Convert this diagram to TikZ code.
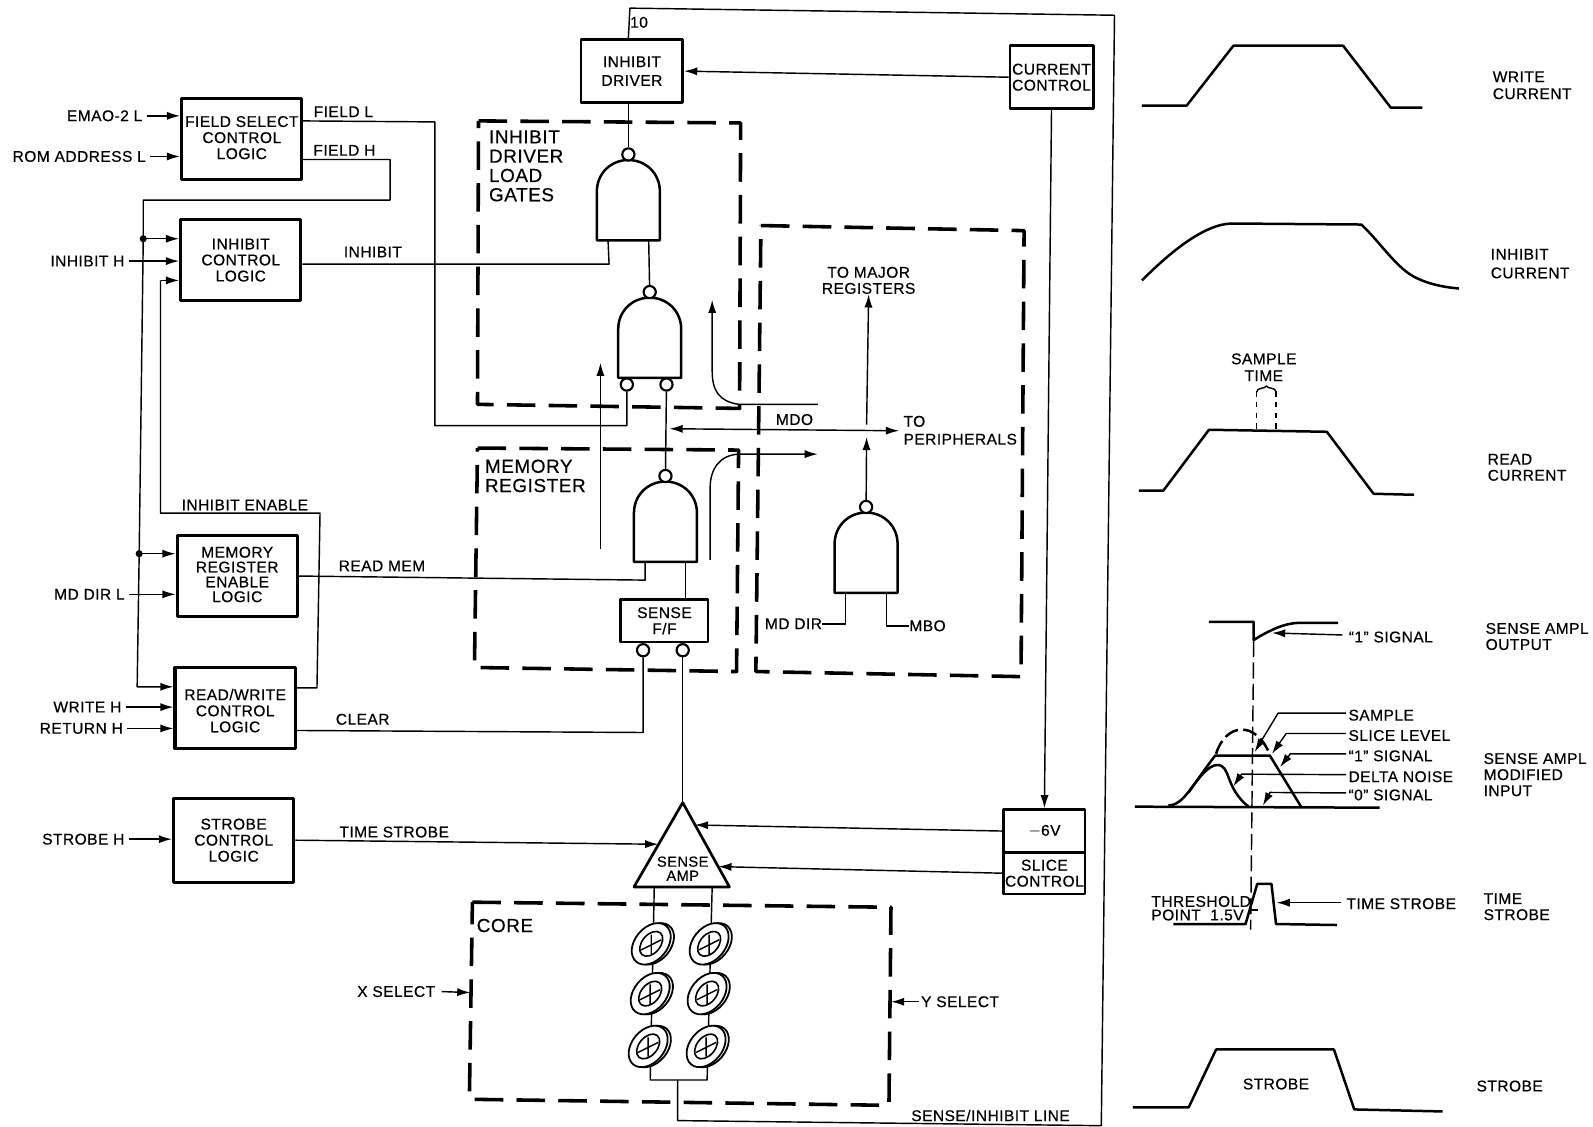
\documentclass[tikz,border=0pt]{standalone}
\usepackage{fontspec}
\setmainfont[LetterSpace=3,FakeBold=0.5]{Liberation Sans}
\usetikzlibrary{arrows.meta,positioning,calc}

\begin{document}
\begin{tikzpicture}[
        x=0.02cm,y=-0.02cm,
        line join=round,
        every node/.style={inner sep=0pt,font=\fontsize{8.7}{9}\selectfont,align=center},
        logicbox/.style={draw,line width=1.7pt,minimum width=2.37cm,minimum height=1.6cm},
        smallbox/.style={draw,line width=1.5pt},
        wire/.style={line width=0.8pt},
        arr/.style={wire,-{Latex[length=2.6mm,width=1.6mm]}},
        dualarr/.style={wire,{Latex[length=2.6mm,width=1.6mm]}-{Latex[length=2.6mm,width=1.6mm]}},
        dashbox/.style={line width=2pt,dash pattern=on 16pt off 7.4pt},
        biglabel/.style={font=\fontsize{10.6}{10.8}\selectfont,align=left},
        sidelabel/.style={align=left,anchor=west},
        wave/.style={line width=1.4pt},
        bubble/.style={circle,draw,fill=white,line width=1.2pt,minimum size=0.24cm},
        gate/.pic={
          \draw[line width=1.4pt] (-31,0) -- (-31,-48) .. controls (-31,-66) and (-17,-79) .. (0,-79)
             .. controls (17,-79) and (31,-66) .. (31,-48) -- (31,0) -- cycle;
          \node[bubble] (-out) at (0,-84.5) {};
          \coordinate (-a) at (-20,0);
          \coordinate (-b) at (20,0);
        },
        corering/.pic={
          \draw[line width=1pt,fill=white,rotate=50] (2,2.5) ellipse [x radius=23,y radius=16];
          \draw[line width=1pt,fill=white,rotate=50] (0,0) ellipse [x radius=23,y radius=16];
          \draw[line width=0.9pt,rotate=50] (0,0) ellipse [x radius=14,y radius=9];
          \draw[line width=0.8pt] (0,-9) -- (0,10) (-10,6) -- (10,-4);
        }
      ]
        \useasboundingbox (0,0) rectangle (1568,1109);
        % control logic
        \node[logicbox] (fsel) at (238,137) {};
        \node (fseltxt) at (238,135.5) {FIELD SELECT\\CONTROL\\LOGIC};
        \node[logicbox] (inh) at (237,256) {INHIBIT\\CONTROL\\LOGIC};
        \node[logicbox] (mre) at (233.5,567) {};
        \node[font=\fontsize{8.7}{8.3}\selectfont] (mretxt) at (233.5,565.5) {MEMORY\\REGISTER\\ENABLE\\LOGIC};
        \node[logicbox] (rw) at (231.5,697) {};
        \node (rwtxt) at (231.5,699.5) {READ/WRITE\\CONTROL\\LOGIC};
        \node[logicbox,minimum height=1.66cm] (strb) at (230,827) {STROBE\\CONTROL\\LOGIC};
        \node[smallbox,minimum width=2cm,minimum height=1.24cm] (driver) at (622,70) {INHIBIT\\[1.5pt]DRIVER};
        \node[smallbox,minimum width=1.64cm,minimum height=1.24cm] (cur) at (1035,76) {CURRENT\\CONTROL};
        \node[smallbox,minimum width=1.6cm,minimum height=0.84cm] (slicev) at (1028,818) {$-$6V};
        \node[smallbox,minimum width=1.6cm,minimum height=0.82cm] (slice) at (1028,859.5) {SLICE\\CONTROL};
        \node[smallbox,minimum width=1.72cm,minimum height=0.84cm] (sff) at (654,611) {SENSE\\F/F};
        % gates
        \pic (gatea) at (618.5,236.5) {gate};
        \pic (gateb) at (639.5,372) {gate};
        \pic (gatec) at (655,553) {gate};
        \pic (gated) at (852.5,583.5) {gate};
        \node[bubble] (gatebl) at (617,378.5) {};
        \node[bubble] (gatebr) at (656,378.5) {};
        \node[bubble] (sffl) at (633,640) {};
        \node[bubble] (sffr) at (672,640) {};
        % dashed groups
        \draw[dashbox] (471,119) -- (729,121) -- (728,402) -- (470,398) -- cycle;
        \draw[dashbox] (749,222) -- (1008,227) -- (1005,666) -- (744,661) -- cycle;
        \draw[dashbox] (470,441) -- (727,443) -- (725,661) -- (467,657) -- cycle;
        \draw[dashbox] (465,888) -- (877,893) -- (875,1088) -- (462,1082) -- cycle;
        \node[biglabel,anchor=north west] (inhlbl) at (481,128) {INHIBIT\\DRIVER\\LOAD\\GATES};
        \node[biglabel,anchor=north west] (memlbl) at (477,452) {MEMORY\\REGISTER};
        \node[biglabel] (corelbl) at (497,911) {CORE};
        % inputs
        \node (emao) at (103,114) {EMAO-2 L};
        \node (rom) at (78,154) {ROM ADDRESS L};
        \node (inhh) at (86,257) {INHIBIT H};
        \node (mddirl) at (88,585) {MD DIR L};
        \node (wrh) at (86,696) {WRITE H};
        \node (reth) at (80,717) {RETURN H};
        \node (strbh) at (82,826) {STROBE H};
        \draw[arr] (emao.east)++(4,0) -- (emao.east -| fsel.west);
        \draw[arr] (rom.east)++(4,0) -- (rom.east -| fsel.west);
        \draw[arr] (inhh.east)++(4,0) -- (inhh.east -| inh.west);
        \draw[arr] (mddirl.east)++(4,0) -- (mddirl.east -| mre.west);
        \draw[arr] (wrh.east)++(4,0) -- (wrh.east -| rw.west);
        \draw[arr] (reth.east)++(4,0) -- (reth.east -| rw.west);
        \draw[arr] (strbh.east)++(4,0) -- (strbh.east -| strb.west);
        % wire labels
        \node (fieldl) at (338,110) {FIELD L};
        \node (fieldh) at (339,148) {FIELD H};
        \node (inhibit) at (367,248) {INHIBIT};
        \node (inhen) at (241,497) {INHIBIT ENABLE};
        \node (readmem) at (376,557) {READ MEM};
        \node (clear) at (357,708) {CLEAR};
        \node (tstrobe) at (388,819) {TIME STROBE};
        % field select and enable lines
        \coordinate (fieldlout) at (297,119);
        \coordinate (fieldhout) at (297,157);
        \coordinate (enjoina) at (141,235);
        \coordinate (enjoinb) at (137,545);
        \coordinate (rwin) at (135,676);
        \coordinate (rwout) at (291,677);
        \coordinate (inhin) at (158,276);
        \draw[wire] (fieldlout) -- (428,120) -- (428,419) -| (gatebl);
        \draw[wire] (fieldhout) -- (384,157) -- (384,197) -- (141,197) -- (enjoina) -- (enjoinb);
        \draw[arr] (enjoinb) -- (rwin) -- (rwin -| rw.west);
        \draw[arr] (enjoina) -- (enjoina -| inh.west);
        \draw[arr] (enjoinb) -- (enjoinb -| mre.west);
        \fill (enjoina) circle [radius=3.5];
        \fill (enjoinb) circle [radius=3.5];
        \draw[wire] (rwout) -- (312,677) -- (315,505) -- (158,505) -- (inhin);
        \draw[arr] (inhin) -- (inhin -| inh.west);
        \draw[wire] (inh.east) ++(0,4) -- (599.5,260) -- (gatea-a);
        \draw[wire] (mre.east) -- (635,571) -- (gatec-a);
        \draw[wire] (rw.east) ++(0,22) -- (633,721) -- (sffl);
        \draw[arr] (strb.east) -- (648,831);
        % gate chain
        \draw[wire] (gatea-out) -- (gatea-out |- driver.south);
        \draw[wire] (gatea-b) -- (gateb-out);
        \draw[wire] (gatebr) -- (gatec-out);
        \draw[wire] (gatec-b) -- (gatec-b |- sff.north);
        \draw[arr] (591,540) -- (591,357);
        \coordinate (mdoa) at (805,398);
        \coordinate (mdob) at (805,447);
        \draw[arr] (mdoa) -- (727,398) .. controls (708,395) and (701,385) .. (701,365) -- (701,295);
        \draw[arr] (699,551) -- (699,480) .. controls (699,462) and (708,448) .. (727,447) -- (mdob);
        % MD bus
        \node (mdo) at (782,413) {MDO};
        \node[align=left,anchor=north west] (perph) at (889,409) {TO\\[1pt]PERIPHERALS};
        \node (major) at (855,276) {TO MAJOR\\REGISTERS};
        \node (mddir) at (781,614) {MD DIR};
        \node (mbo) at (913,616) {MBO};
        \coordinate (mdoleft) at (659,422);
        \draw[dualarr] (mdoleft) -- (885,424);
        \draw[arr] (853,418) -- (major.south);
        \draw[arr] (gated-out) -- (853,430);
        \draw[wire] (gated-a) |- (mddir.east);
        \draw[wire] (gated-b) |- (mbo.west);
        % sense amp
        \coordinate (ampapex) at (672,790);
        \coordinate (ampleft) at (624,873);
        \coordinate (ampright) at (718,873);
        \draw[line width=1.5pt] (ampapex) -- (ampleft) -- (ampright) -- cycle;
        \node[font=\fontsize{8.2}{7.9}\selectfont] (amp) at (672,855) {SENSE\\AMP};
        \draw[wire] (sffr) -- (ampapex);
        \draw[arr] (slicev.west) -- (684,812);
        \draw[arr] (slice.west) -- (707,853);
        \draw[arr] (cur.south) -- (slicev.north);
        \draw[arr] (cur.west) -- (driver.east);
        \coordinate (senseline) at (667,1063);
        \draw[wire] (driver.north -| gatea-a) ++(20,0) -- (620,8) -- (1097,15) -- (1084,1108) -- (667,1103) -- (senseline);
        \node (ten) at (629,22) {10};
        \node (senselbl) at (975,1098) {SENSE/INHIBIT LINE};
        % core
        \draw[wire] (644,873) -- (640,1063) -- (696,1063) -- (701,873);
        \pic at (641,929) {corering};
        \pic at (698,929) {corering};
        \pic at (640,978) {corering};
        \pic at (696,978) {corering};
        \pic at (638,1030) {corering};
        \pic at (695,1030) {corering};
        \node (xsel) at (390,976) {X SELECT};
        \node (ysel) at (945,986) {Y SELECT};
        \coordinate (xtip) at (463,977);
        \coordinate (ytip) at (877,986);
        \draw[arr] (xsel.east)++(6,0) -- (xtip);
        \draw[arr] (ysel.west)++(-2,0) -- (ytip);
        % write and inhibit current
        \draw[wave] (1124,104) -- (1168,104) -- (1214,45) -- (1322,45) -- (1369,106) -- (1400,106);
        \node[sidelabel] (wrcur) at (1469,84) {WRITE\\[0.5pt]CURRENT};
        \draw[wave] (1124,276) .. controls (1150,250) and (1185,220) .. (1213,220) -- (1340,221)
            .. controls (1360,240) and (1375,265) .. (1395,274) .. controls (1410,281) and (1425,283) .. (1436,284);
        \node[sidelabel] (inhcur) at (1467,259.5) {INHIBIT\\[1.5pt]CURRENT};
        % read current
        \draw[wave] (1121,483) -- (1145,483) -- (1190,423) -- (1306,425) -- (1352,486) -- (1392,487);
        \node[sidelabel] (rdcur) at (1464,460) {READ\\[0pt]CURRENT};
        \node (samptime) at (1244,361.5) {SAMPLE\\[0.5pt]TIME};
        \draw[wire,dashed] (1237,385) -- (1237,423);
        \draw[wire,dashed] (1256,385) -- (1256,423);
        \draw[wire] (1237,386) .. controls (1237,381) and (1245,383) .. (1246.5,380) .. controls (1248,383) and (1256,381) .. (1256,386);
        % sense ampl output
        \draw[wave] (1190,612) -- (1234,612) -- (1234,630) .. controls (1250,620) and (1265,613) .. (1280,613) -- (1317,613);
        \node (onesig) at (1369,627) {``1'' SIGNAL};
        \draw[arr] (onesig.west)++(-6,-2) -- (1252,623);
        \node[sidelabel] (senseout) at (1462,626.5) {SENSE AMPL\\OUTPUT};
        \draw[wire,dash pattern=on 9pt off 3pt] (1234,631) -- (1231,915);
        % sense ampl modified input
        \draw[wave] (1117,794) -- (1358,795);
        \draw[wave] (1150,793) .. controls (1165,792) and (1172,775) .. (1196,743.8) -- (1250,743.8) -- (1281,794.6);
        \draw[wave] (1170,780) .. controls (1180,765) and (1190,753) .. (1198,753) .. controls (1212,753) and (1205,775) .. (1229,794);
        \draw[wave,dash pattern=on 8pt off 3pt] (1197,742) .. controls (1206,712) and (1236,708) .. (1250,743);
        \node[sidelabel] (samplbl) at (1327,704) {SAMPLE};
        \node[sidelabel] (slclbl) at (1327,724) {SLICE LEVEL};
        \node[sidelabel] (onelbl) at (1327,744) {``1'' SIGNAL};
        \node[sidelabel] (dltlbl) at (1327,764.5) {DELTA NOISE};
        \node[sidelabel] (zerlbl) at (1327,782.5) {``0'' SIGNAL};
        \draw[arr] (samplbl.west) ++(-2,-2) -- (1258,702) -- (1235,740);
        \draw[arr] (slclbl.west) ++(-2,-2) -- (1266,722) -- (1252,742);
        \draw[arr] (onelbl.west) ++(-2,-2) -- (1270,742) -- (1260,755);
        \draw[arr] (dltlbl.west) ++(-2,-2) -- (1222,762) -- (1214,774);
        \draw[arr] (zerlbl.west) ++(-2,-2) -- (1250,780) -- (1243,793);
        \node[sidelabel] (sensein) at (1460,762.5) {SENSE AMPL\\MODIFIED\\INPUT};
        % time strobe
        \draw[wave] (1155,909.5) -- (1226,909.5) -- (1237.5,870) -- (1251.5,870) -- (1256,909.5) -- (1316,910.5);
        \draw[wire] (1229,895.5) -- (1238,895.5);
        \node[anchor=west,align=left,font=\fontsize{8.7}{7.6}\selectfont] (thresh) at (1133,894) {THRESHOLD\\POINT\ \ 1.5V};
        \node[sidelabel] (tslbl) at (1325,889.5) {TIME STROBE};
        \draw[arr] (tslbl.west)++(-5,-1) -- (1256.5,888.5);
        \node[sidelabel] (timelbl) at (1460,892.5) {TIME\\STROBE};
        % strobe
        \draw[wave] (1115,1090) -- (1170,1090) -- (1197,1033) -- (1313,1033) -- (1333,1092) -- (1420,1094);
        \node (strbin) at (1256,1067) {STROBE};
        \node (strblbl) at (1486,1069) {STROBE};
      \end{tikzpicture}
\end{document}
